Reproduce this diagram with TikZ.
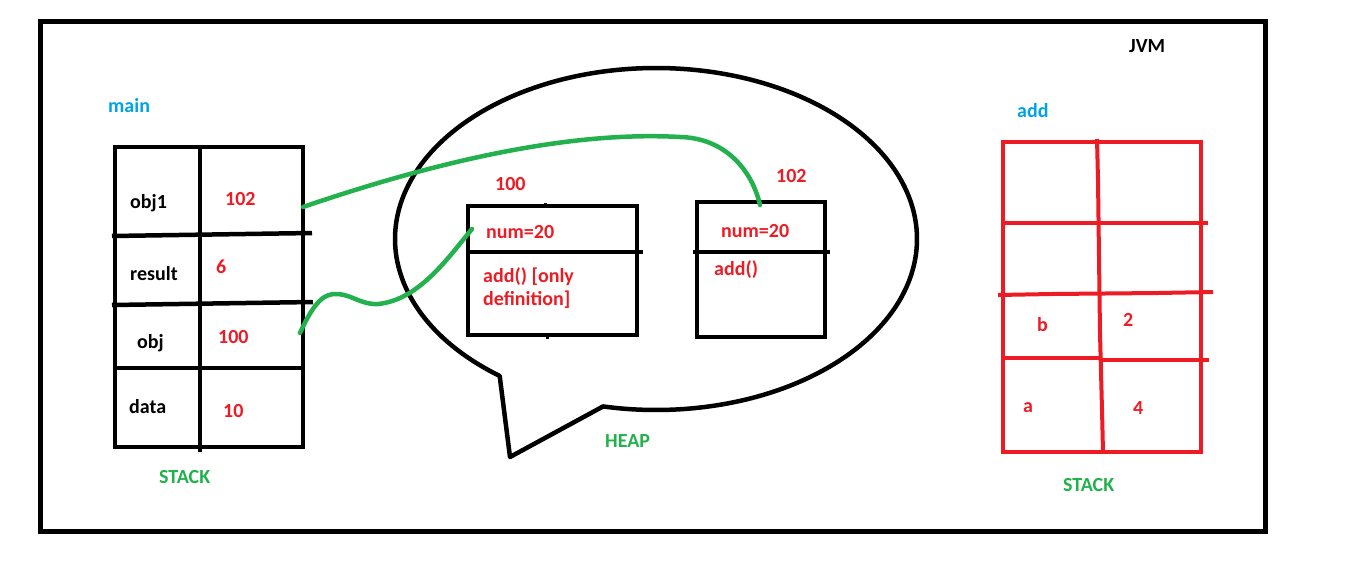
\documentclass[tikz,border=0pt]{standalone}
\usepackage{fontspec}
\setmainfont{Carlito}
\definecolor{pred}{HTML}{ED1C24}
\definecolor{pblue}{HTML}{00A2E8}
\definecolor{pgreen}{HTML}{22B14C}
\begin{document}
\begin{tikzpicture}[x=1pt,y=-1pt,
  lbl/.style={inner sep=0pt, anchor=base west, font=\bfseries\fontsize{20}{24}\selectfont},
  val/.style={lbl, text=pred},
  ttl/.style={lbl, text=pblue},
  area/.style={lbl, text=pgreen},
  blk/.style={line width=4.5pt, draw=black},
  rd/.style={line width=4pt, draw=pred},
  ref/.style={line width=4.5pt, draw=pgreen, line cap=round},
  bub/.style={line width=4.5pt, draw=black, line join=round}]
\useasboundingbox (0,0) rectangle (1360,570);
% outer JVM frame
\draw[line width=5pt] (40,21.5) rectangle (1265,531);
% main stack
\draw[blk] (115,147) rectangle (303,447);
\draw[blk] (200,147) -- (200,452);
\draw[blk] (112,236) -- (312,233);
\draw[blk] (112,305) -- (313,302);
\draw[blk] (115,368) -- (303,368);
% heap bubble
\draw[bub] plot[domain=-233.2:101.7, samples=150, smooth] ({656+261*cos(\x)},{239+171*sin(\x)}) -- (510,457) -- cycle;
% object 100
\draw[blk] (468,206) rectangle (637,335);
\draw[blk] (468,252) -- (643,252);
\draw[line width=3pt] (545,203) -- (545,208);
\draw[line width=3pt] (547,333) -- (547,339);
% object 102
\draw[blk] (697,202) rectangle (825,337);
\draw[blk] (693,252) -- (830,252);
% add stack
\draw[rd] (1003,142) rectangle (1201,452);
\draw[rd] (1003,223) -- (1208,223);
\draw[rd] (998,295) -- (1052,294) -- (1158,293) -- (1213,292);
\draw[rd] (1003,358) -- (1101,358) (1101,360) -- (1209,360);
\draw[rd] (1097,139) -- (1098,180) -- (1099,257) -- (1100,333) -- (1102,410) -- (1103,452);
% reference endpoints
\coordinate (obj1ref) at (303,207);
\coordinate (objref) at (300,333);
\coordinate (o102) at (760,205);
\coordinate (o100) at (472,229);
\draw[ref] (obj1ref) .. controls (470,150) and (590,132) .. (680,137) .. controls (725,138) and (752,170) .. (o102);
\draw[ref] (objref) .. controls (315,300) and (325,293) .. (338,294) .. controls (352,295) and (362,305) .. (378,304) .. controls (420,300) and (450,255) .. (o100);
% labels
\node[ttl] (mainlbl) at (108,112) {main};
\node[lbl] (obj1) at (130,208) {obj1};
\node[val] (v102) at (225,205) {102};
\node[lbl] (result) at (130,280) {result};
\node[val] (v6) at (216,273) {6};
\node[lbl] (obj) at (137,348) {obj};
\node[val] (v100) at (218,343) {100};
\node[lbl] (data) at (129,413) {data};
\node[val] (v10) at (223,417) {10};
\node[area] (stack1) at (159,483) {STACK};
\node[lbl] (jvm) at (1129,52) {JVM};
\node[val] (a100) at (495,190) {100};
\node[val] (n1) at (486,238) {num=20};
\node[val] (m1) at (483,282) {add() [only};
\node[val] (m1b) at (483,305) {definition]};
\node[val] (a102) at (776,182) {102};
\node[val] (n2) at (721,237) {num=20};
\node[val] (m2) at (714,275) {add()};
\node[area] (heap) at (605,447) {HEAP};
\node[ttl] (addlbl) at (1017,117) {add};
\node[val] (vb) at (1037,331) {b};
\node[val] (v2) at (1123,326) {2};
\node[val] (va) at (1023,412) {a};
\node[val] (v4) at (1133,414) {4};
\node[area] (stack2) at (1063,491) {STACK};
\end{tikzpicture}
\end{document}
